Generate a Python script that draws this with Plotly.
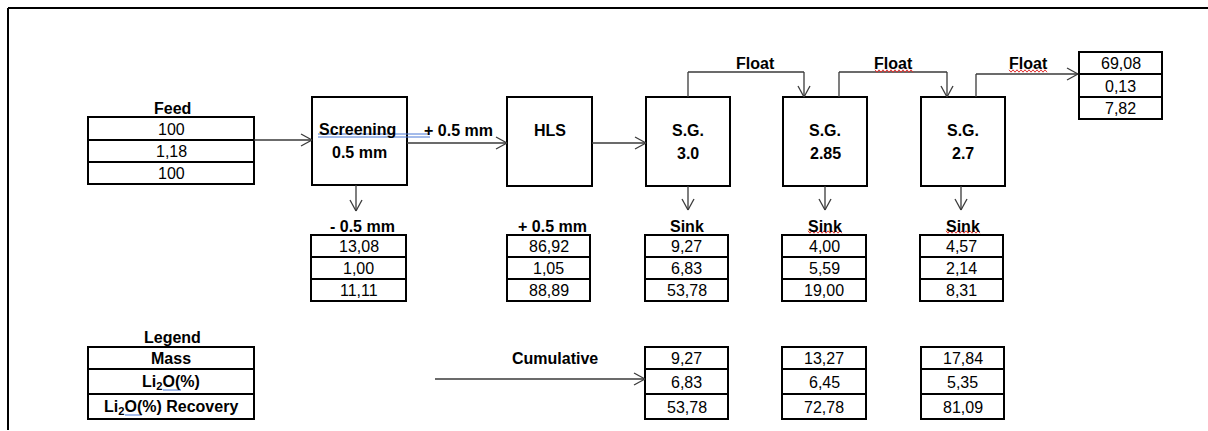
import plotly.graph_objects as go

# ---------------- data ----------------
feed_vals = ["100", "1,18", "100"]
minus05_vals = ["13,08", "1,00", "11,11"]
plus05_vals = ["86,92", "1,05", "88,89"]
sink30_vals = ["9,27", "6,83", "53,78"]
sink285_vals = ["4,00", "5,59", "19,00"]
sink27_vals = ["4,57", "2,14", "8,31"]
float_vals = ["69,08", "0,13", "7,82"]
cum30_vals = ["9,27", "6,83", "53,78"]
cum285_vals = ["13,27", "6,45", "72,78"]
cum27_vals = ["17,84", "5,35", "81,09"]
legend_rows = ["Mass", "Li<sub>2</sub>O(%)", "Li<sub>2</sub>O(%) Recovery"]

FONT = "Liberation Sans, Arial, sans-serif"
BLACK = "#000000"
ARROW = "#3a3a3a"

shapes = []
annotations = []


def line(x0, y0, x1, y1, color=ARROW, width=1.3):
    shapes.append(dict(type="line", x0=x0, y0=y0, x1=x1, y1=y1,
                       xref="x", yref="y", line=dict(color=color, width=width)))


def arrow(x0, y0, x1, y1):
    line(x0, y0, x1, y1)
    L, W = 11, 6
    if y0 == y1:  # horizontal, pointing right
        line(x1 - L, y1 - W, x1, y1)
        line(x1 - L, y1 + W, x1, y1)
    else:  # vertical, pointing down
        line(x1 - W, y1 - L, x1, y1)
        line(x1 + W, y1 - L, x1, y1)


def text(x, y, s, bold=False, size=16):
    annotations.append(dict(x=x, y=y, xref="x", yref="y", text=(f"<b>{s}</b>" if bold else s),
                            showarrow=False, font=dict(family=FONT, size=size, color=BLACK),
                            xanchor="center", yanchor="middle"))


def box(x0, y0, x1, y1, width=2):
    shapes.append(dict(type="rect", x0=x0, y0=y0, x1=x1, y1=y1, xref="x", yref="y",
                       line=dict(color=BLACK, width=width), fillcolor="rgba(0,0,0,0)"))


def table(x0, x1, ys, vals, bold=False):
    box(x0, ys[0], x1, ys[-1], width=2)
    for yy in ys[1:-1]:
        line(x0, yy, x1, yy, color=BLACK, width=2)
    for i, v in enumerate(vals):
        text((x0 + x1) / 2, (ys[i] + ys[i + 1]) / 2 + 0.5, v, bold=bold)


# outer frame
line(8, 8, 1208, 8, color=BLACK, width=2)
line(8, 8, 8, 431, color=BLACK, width=2)

# process boxes
BY0, BY1 = 97, 186
box(312, BY0, 407, 185)
box(507, BY0, 592, BY1)
box(646, BY0, 730, BY1)
box(783, BY0, 867, BY1)
box(921, BY0, 1005, BY1)

text(357, 129, "Screening", bold=True)
text(359, 152, "0.5 mm", bold=True)
text(550, 130, "HLS", bold=True)
text(688, 130, "S.G.", bold=True)
text(688, 153, "3.0", bold=True)
text(825, 130, "S.G.", bold=True)
text(825, 153, "2.85", bold=True)
text(963, 130, "S.G.", bold=True)
text(963, 153, "2.7", bold=True)

# tables
ROWS_TOP = [235, 257, 279, 301]
ROWS_BOT = [347, 369, 394, 419]
table(88, 254, [117, 140, 162, 184], feed_vals)
table(311, 406, ROWS_TOP, minus05_vals)
table(507, 590, ROWS_TOP, plus05_vals)
table(645, 728, ROWS_TOP, sink30_vals)
table(782, 866, ROWS_TOP, sink285_vals)
table(920, 1003, ROWS_TOP, sink27_vals)
table(1079, 1162, [52, 74, 97, 119], float_vals)
table(645, 728, ROWS_BOT, cum30_vals)
table(782, 866, ROWS_BOT, cum285_vals)
table(921, 1004, ROWS_BOT, cum27_vals)
table(88, 254, ROWS_BOT, legend_rows, bold=True)

# labels
text(172, 108, "Feed", bold=True)
text(172, 337, "Legend", bold=True)
text(458, 130, "+ 0.5 mm", bold=True)
text(362, 226, "- 0.5 mm", bold=True)
text(552, 226, "+ 0.5 mm", bold=True)
text(687, 226, "Sink", bold=True)
text(825, 226, "Sink", bold=True)
text(963, 226, "Sink", bold=True)
text(555, 358, "Cumulative", bold=True)
text(755, 63, "Float", bold=True)
text(893, 63, "Float", bold=True)
text(1028, 63, "Float", bold=True)

# arrows
arrow(254, 140, 312, 140)
arrow(407, 143, 507, 143)
arrow(592, 143, 646, 143)
arrow(435, 379, 645, 379)
arrow(356, 185, 356, 211)
arrow(688, 186, 688, 210)
arrow(825, 186, 825, 210)
arrow(961, 186, 961, 210)
# float connections
line(688, 97, 688, 72)
line(688, 72, 804, 72)
arrow(804, 72, 804, 97)
line(839, 97, 839, 72)
line(839, 72, 947, 72)
arrow(947, 72, 947, 97)
line(976, 97, 976, 74)
arrow(976, 74, 1078, 74)

# spell-check underlines (decoration)
line(318, 134, 430, 134, color="#4a78d6", width=1)
line(318, 137, 430, 137, color="#4a78d6", width=1)
line(163, 390, 181, 390, color="#4a78d6", width=1)
line(125, 415, 142, 415, color="#4a78d6", width=1)


def wavy(x0, x1, y):
    pts = []
    x = x0
    up = True
    while x <= x1:
        pts.append(f"{x},{y - 1.2 if up else y + 1.2}")
        up = not up
        x += 2
    shapes.append(dict(type="path", path="M" + " L".join(pts), xref="x", yref="y",
                       line=dict(color="#e03030", width=1)))


wavy(875, 913, 71)
wavy(1009, 1047, 71)
wavy(808, 843, 232)
wavy(946, 981, 232)

fig = go.Figure()
fig.update_layout(
    width=1208, height=430,
    margin=dict(l=0, r=0, t=0, b=0),
    paper_bgcolor="white", plot_bgcolor="white",
    xaxis=dict(range=[0, 1208], visible=False, fixedrange=True),
    yaxis=dict(range=[430, 0], visible=False, fixedrange=True),
    shapes=shapes, annotations=annotations, showlegend=False,
)
fig.write_html("out.html", config={"displayModeBar": False},
               post_script=("document.head.insertAdjacentHTML('beforeend',"
                            "'<style>html,body{margin:0;padding:0;overflow:hidden}"
                            "::-webkit-scrollbar{display:none;width:0;height:0}</style>');"))
